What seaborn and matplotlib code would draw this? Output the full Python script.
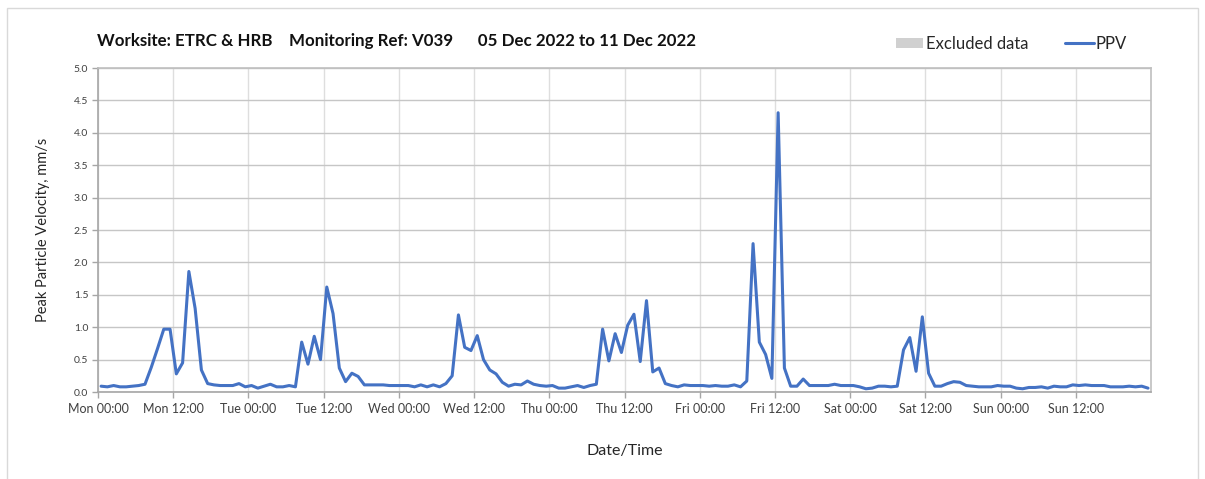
import seaborn as sns
import matplotlib.pyplot as plt
import matplotlib.dates as mdates
from matplotlib.patches import Patch, Rectangle
from matplotlib.lines import Line2D
import pandas as pd

# hourly PPV readings, Mon 05 Dec 2022 to Sun 11 Dec 2022 (mm/s)
mon = [0.09, 0.08, 0.10, 0.08, 0.08, 0.09, 0.10, 0.12, 0.38, 0.67, 0.97, 0.97,
       0.28, 0.45, 1.86, 1.29, 0.34, 0.13, 0.11, 0.10, 0.10, 0.10, 0.13, 0.08]
tue = [0.10, 0.06, 0.09, 0.12, 0.08, 0.08, 0.10, 0.08, 0.77, 0.43, 0.86, 0.50,
       1.62, 1.21, 0.37, 0.16, 0.29, 0.24, 0.11, 0.11, 0.11, 0.11, 0.10, 0.10]
wed = [0.10, 0.10, 0.08, 0.11, 0.08, 0.11, 0.08, 0.13, 0.25, 1.19, 0.69, 0.64,
       0.87, 0.50, 0.34, 0.28, 0.15, 0.09, 0.12, 0.11, 0.17, 0.12, 0.10, 0.09]
thu = [0.10, 0.06, 0.06, 0.08, 0.10, 0.07, 0.10, 0.12, 0.97, 0.48, 0.90, 0.61,
       1.03, 1.20, 0.47, 1.41, 0.31, 0.37, 0.13, 0.10, 0.08, 0.11, 0.10, 0.10]
fri = [0.10, 0.09, 0.10, 0.09, 0.09, 0.11, 0.08, 0.17, 2.29, 0.77, 0.58, 0.21,
       4.31, 0.37, 0.09, 0.09, 0.20, 0.10, 0.10, 0.10, 0.10, 0.12, 0.10, 0.10]
sat = [0.10, 0.08, 0.05, 0.06, 0.09, 0.09, 0.08, 0.09, 0.65, 0.84, 0.32, 1.16,
       0.29, 0.09, 0.09, 0.13, 0.16, 0.15, 0.10, 0.09, 0.08, 0.08, 0.08, 0.10]
sun = [0.09, 0.09, 0.06, 0.05, 0.07, 0.07, 0.08, 0.06, 0.09, 0.08, 0.08, 0.11,
       0.10, 0.11, 0.10, 0.10, 0.10, 0.08, 0.08, 0.08, 0.09, 0.08, 0.09, 0.06]

ppv = mon + tue + wed + thu + fri + sat + sun
times = pd.date_range('2022-12-05 00:30', periods=len(ppv), freq='h')
df = pd.DataFrame({'Date/Time': times, 'PPV': ppv})

title = 'Worksite: ETRC & HRB    Monitoring Ref: V039      05 Dec 2022 to 11 Dec 2022'

sns.set_theme(style='white')
plt.rcParams['font.family'] = ['Lato', 'DejaVu Sans']

fig = plt.figure(figsize=(12.05, 4.79), dpi=100)
fig.patches.append(Rectangle((0.006, -0.01), 0.988, 0.994, transform=fig.transFigure,
                             fill=False, edgecolor='#d9d9d9', linewidth=1))
ax = fig.add_axes([0.0813, 0.1816, 0.874, 0.6764])

sns.lineplot(data=df, x='Date/Time', y='PPV', ax=ax, color='#4472C4', linewidth=2.2)

ax.set_xlim(pd.Timestamp('2022-12-05 00:00'), pd.Timestamp('2022-12-12 00:00'))
ax.set_ylim(0, 5)
ax.set_yticks([i * 0.5 for i in range(11)])
ax.yaxis.set_major_formatter(plt.FuncFormatter(lambda v, p: f'{v:.1f}'))
ax.set_xticks(pd.date_range('2022-12-05 00:00', '2022-12-11 12:00', freq='12h'))
ax.xaxis.set_major_formatter(mdates.DateFormatter('%a %H:%M'))

ax.grid(axis='y', color='#c6c6c6', linewidth=1)
ax.grid(axis='x', color='#dedede', linewidth=1)
for s in ax.spines.values():
    s.set_color('#bfbfbf')
    s.set_linewidth(1.2)
ax.spines['left'].set_color('#a6a6a6')
ax.spines['bottom'].set_color('#a6a6a6')
ax.tick_params(axis='both', which='major', length=4, width=1, color='#a6a6a6',
               colors='#404040', bottom=True, left=True)
ax.tick_params(axis='y', labelsize=7.5, pad=3)
ax.tick_params(axis='x', labelsize=9, pad=4)

ax.set_xlabel('Date/Time', fontsize=11.5, color='#262626', labelpad=21)
ax.set_ylabel('Peak Particle Velocity, mm/s', fontsize=10.5, color='#262626', labelpad=17)

fig.text(0.0805, 0.903, title, fontsize=12.2, fontweight='bold', color='#111111')

leg1 = fig.legend(handles=[Patch(facecolor='#d0d0d0', edgecolor='none', label='Excluded data')],
                  loc='center left', bbox_to_anchor=(0.738, 0.908), frameon=False,
                  fontsize=12, handlelength=1.6, handleheight=0.6, handletextpad=0.2,
                  labelcolor='#262626', borderaxespad=0)
fig.legend(handles=[Line2D([], [], color='#4472C4', linewidth=2.2, label='PPV')],
           loc='center left', bbox_to_anchor=(0.878, 0.908), frameon=False,
           fontsize=12, handlelength=1.75, handletextpad=0.1,
           labelcolor='#262626', borderaxespad=0)

plt.savefig('out.png', dpi=100)
plt.close()
